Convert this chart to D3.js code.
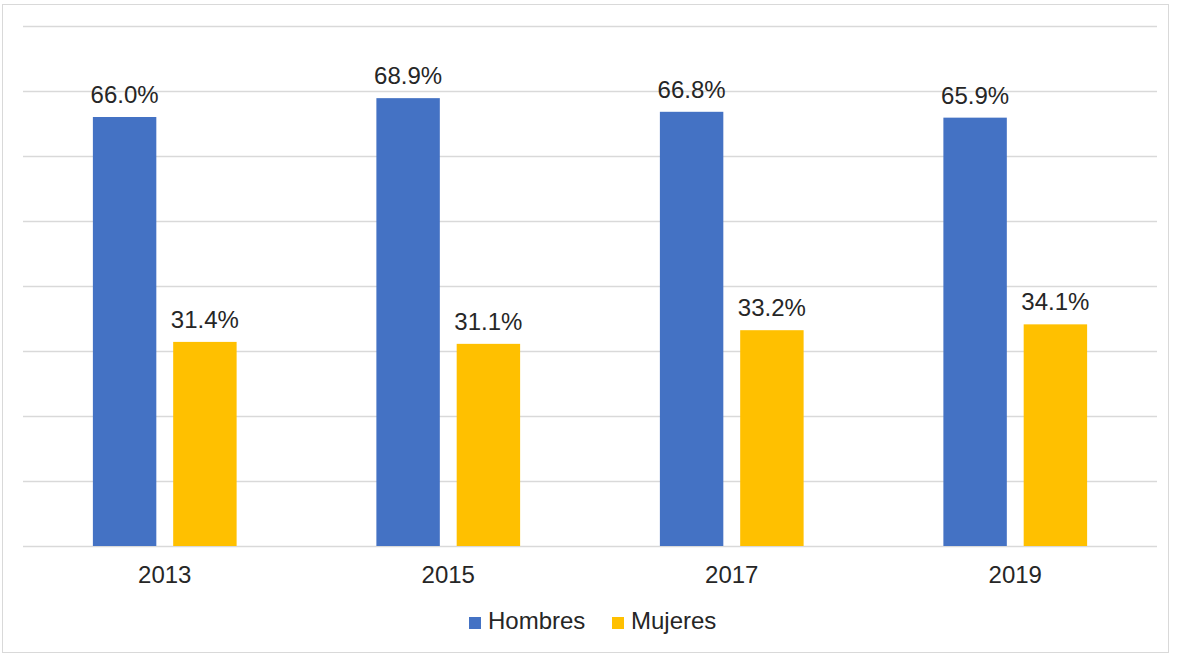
<!DOCTYPE html>
<html>
<head>
<meta charset="utf-8">
<script src="https://cdn.jsdelivr.net/npm/d3@7"></script>
<style>
  body { margin: 0; background: #fff; }
  text { font-family: "Liberation Sans", Arial, sans-serif; fill: #262626; }
</style>
</head>
<body>
<svg id="chart"></svg>
<script>
const years = ["2013", "2015", "2017", "2019"];
const series = ["Hombres", "Mujeres"];
const hombres = [66.0, 68.9, 66.8, 65.9];
const mujeres = [31.4, 31.1, 33.2, 34.1];
const yTicks = [0, 10, 20, 30, 40, 50, 60, 70, 80];
const colors = ["#4472C4", "#FFC000"];

const width = 1178;
const height = 654;
const svg = d3.select("#chart").attr("width", width).attr("height", height);

// outer frame
svg.append("rect")
  .attr("x", 2.5).attr("y", 4.5)
  .attr("width", 1166).attr("height", 648)
  .attr("fill", "#fff").attr("stroke", "#d9d9d9");

const margin = { top: 26, bottom: 108, left: 23, right: 21 };
const innerWidth = width - margin.left - margin.right;
const innerHeight = height - margin.top - margin.bottom;

const g = svg.append("g").attr("transform", `translate(${margin.left},${margin.top})`);

const x0 = d3.scaleBand().domain(years).range([0, innerWidth])
  .paddingInner(0.493).paddingOuter(0.2465);
const x1 = d3.scaleBand().domain(series).range([0, x0.bandwidth()])
  .paddingInner(0.21).paddingOuter(0);
const y = d3.scaleLinear().domain([0, 80]).range([innerHeight, 0]);

// gridlines
const grid = g.append("g").call(
  d3.axisLeft(y).tickValues(yTicks).tickSize(-innerWidth).tickFormat("")
);
grid.select(".domain").remove();
grid.selectAll(".tick text").remove();
grid.selectAll(".tick line").attr("stroke", "#d9d9d9").attr("stroke-width", 1.3);

const rows = years.map((yr, i) => ({ year: yr, values: [hombres[i], mujeres[i]] }));

const groups = g.selectAll(".grp").data(rows).join("g")
  .attr("transform", (d) => `translate(${x0(d.year)},0)`);

groups.selectAll("rect").data((d) => d.values.map((v, j) => ({ key: series[j], v, j })))
  .join("rect")
  .attr("x", (d) => x1(d.key))
  .attr("width", x1.bandwidth())
  .attr("y", (d) => y(d.v))
  .attr("height", (d) => innerHeight - y(d.v))
  .attr("fill", (d) => colors[d.j]);

groups.selectAll(".lbl").data((d) => d.values.map((v, j) => ({ key: series[j], v, j })))
  .join("text")
  .attr("class", "lbl")
  .attr("x", (d) => x1(d.key) + x1.bandwidth() / 2)
  .attr("y", (d) => y(d.v) - 14)
  .attr("text-anchor", "middle")
  .attr("font-size", "24px")
  .text((d) => d.v.toFixed(1) + "%");

// x axis labels
const xAxis = g.append("g").attr("transform", `translate(0,${innerHeight})`)
  .call(d3.axisBottom(x0).tickSize(0).tickPadding(20));
xAxis.select(".domain").remove();
xAxis.selectAll("text").attr("font-size", "24px").attr("font-family", null).attr("fill", "#262626");

// legend
const legendX = [469, 612];
const legend = svg.append("g");
series.forEach((s, i) => {
  legend.append("rect")
    .attr("x", legendX[i]).attr("y", 617)
    .attr("width", 12).attr("height", 12)
    .attr("fill", colors[i]);
  legend.append("text")
    .attr("x", legendX[i] + 19).attr("y", 629)
    .attr("font-size", "24px")
    .text(s);
});
</script>
</body>
</html>
